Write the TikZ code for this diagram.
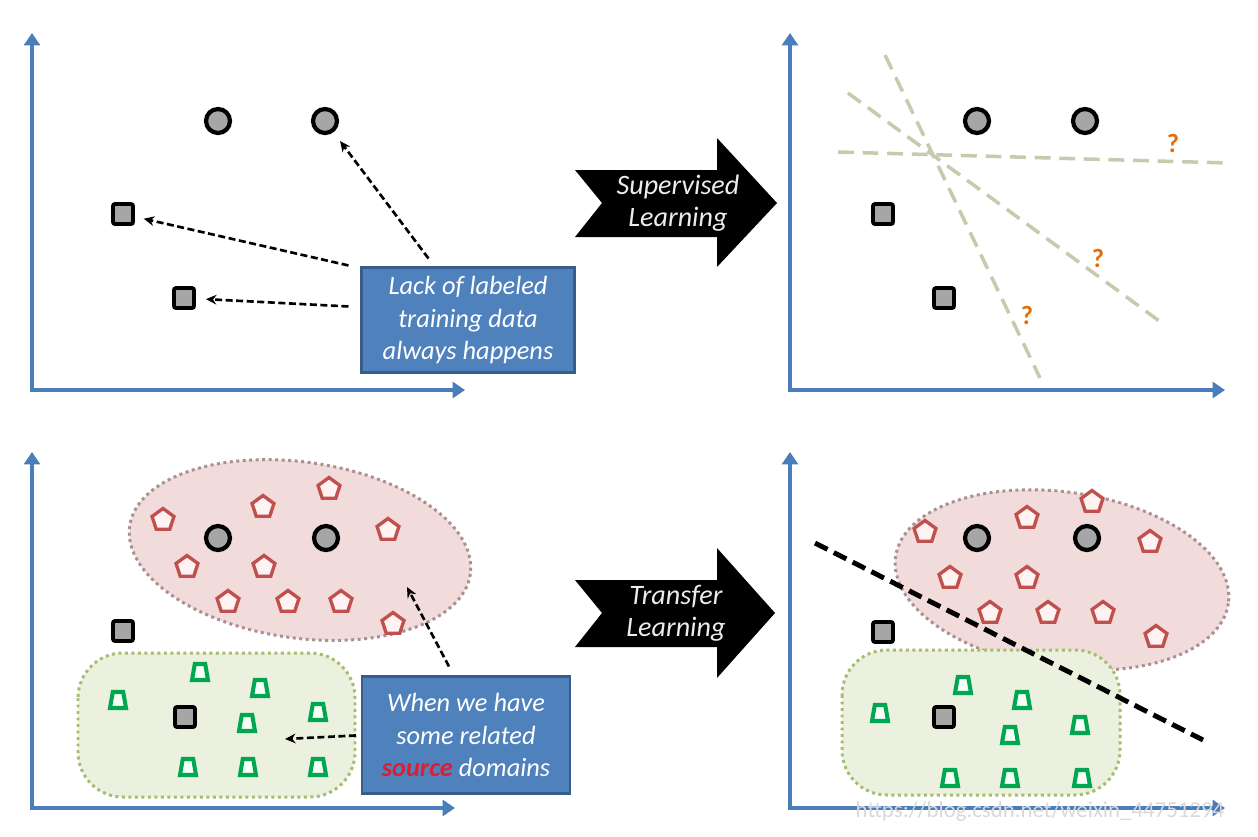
\documentclass[tikz,border=0pt]{standalone}
\usepackage{fontspec}
\setmainfont{Carlito}
\usetikzlibrary{shapes.geometric,arrows.meta,calc}
\definecolor{axisblue}{RGB}{74,126,187}
\definecolor{boxblue}{RGB}{79,129,189}
\definecolor{boxedge}{RGB}{56,93,138}
\definecolor{pinkfill}{RGB}{242,220,219}
\definecolor{pinkedge}{RGB}{170,145,145}
\definecolor{greenfill}{RGB}{235,241,222}
\definecolor{greenedge}{RGB}{165,190,110}
\definecolor{pentred}{RGB}{192,80,77}
\definecolor{trapgreen}{RGB}{0,166,80}
\definecolor{qorange}{RGB}{228,108,10}
\definecolor{cutgreen}{RGB}{196,204,174}
\definecolor{srcred}{RGB}{220,30,50}

\begin{document}
\begin{tikzpicture}[x=0.02cm, y=-0.02cm,
    axis/.style={draw=axisblue, line width=2.3pt, {Triangle[width=9pt,length=7pt]}-{Triangle[width=9pt,length=7pt]}},
    pointer/.style={draw=black, line width=1.5pt, dash pattern=on 4pt off 2pt, -{Stealth[length=6pt,width=5.5pt]}},
    datacirc/.style={circle, draw=black, line width=2.4pt, fill=gray!70, minimum size=0.48cm, inner sep=0pt},
    datasq/.style={rectangle, rounded corners=1.2pt, draw=black, line width=2.2pt, fill=gray!70, minimum size=0.4cm, inner sep=0pt},
    srcpent/.style={regular polygon, regular polygon sides=5, draw=pentred, fill=red!5, line width=1.9pt, minimum size=0.46cm, inner sep=0pt},
    srctrap/.style={trapezium, trapezium stretches=true, trapezium left angle=75, trapezium right angle=75, draw=trapgreen, fill=green!4, line width=2.3pt, minimum width=0.32cm, minimum height=0.32cm, inner sep=0.5pt},
    notebox/.style={rectangle, draw=boxedge, line width=1.2pt, fill=boxblue, text=white, font=\fontsize{15}{18.4}\selectfont\itshape, align=center},
    bigarrow/.style={fill=black},
    arrowtext/.style={text=gray!15, font=\fontsize{16}{18.4}\selectfont\itshape, align=center},
    cutline/.style={draw=cutgreen, line width=2pt, dash pattern=on 9pt off 5pt},
    boundary/.style={draw=black, line width=2.8pt, dash pattern=on 8pt off 4pt},
    qmark/.style={text=qorange, font=\fontsize{15}{15}\selectfont\bfseries},
    blobpink/.style={fill=pinkfill, draw=pinkedge, line width=1.7pt, dotted},
    blobgreen/.style={fill=greenfill, draw=greenedge, line width=1.7pt, dotted}]

    \fill[white] (0,0) rectangle (1258,836);

    % top left
    \draw[axis] (32,33) |- (465,390);
    \node[datacirc] (a1) at (218,121) {};
    \node[datacirc] (a2) at (325,121) {};
    \node[datasq] (a3) at (123,214) {};
    \node[datasq] (a4) at (184,298) {};
    \node[notebox, minimum width=4.26cm, minimum height=2.1cm] (lack) at (468,320) {Lack of labeled\\training data\\always happens};
    \draw[pointer, shorten >=0.22cm] ($(lack.north west)+(68,-8)$) -- (a2);
    \draw[pointer, shorten >=0.18cm] ($(lack.north west)+(-12,-1)$) -- (a3);
    \draw[pointer, shorten >=0.2cm] ($(lack.north west)+(-12,40)$) -- (a4);

    \fill[bigarrow] (575,170) -- (717,170) -- (717,138) -- (777,203) -- (717,267) -- (717,237) -- (575,237) -- (602,203) -- cycle;
    \node[arrowtext] (sup) at (678,203) {Supervised\\Learning};

    % top right
    \draw[axis] (790,33) |- (1225,390);
    \draw[cutline] (838,152) -- (1228,163);
    \draw[cutline] (885,55) -- (1040,378);
    \draw[cutline] (848,93) -- (1162,323);
    \node[datacirc] (b1) at (977,121) {};
    \node[datacirc] (b2) at (1085,121) {};
    \node[datasq] (b3) at (883,214) {};
    \node[datasq] (b4) at (944,298) {};
    \node[qmark] (q1) at (1173,143) {?};
    \node[qmark] (q2) at (1098,258) {?};
    \node[qmark] (q3) at (1027,315) {?};

    % bottom left
    \draw[axis] (32,452) |- (455,808);
    \filldraw[blobpink, rotate around={-8:(300,550)}] (300,550) ellipse [x radius=172, y radius=88];
    \filldraw[blobgreen, rounded corners=0.9cm] (78,653) rectangle (355,797);
    \node[srcpent] (p1) at (163,520) {};
    \node[srcpent] (p2) at (263,507) {};
    \node[srcpent] (p3) at (329,489) {};
    \node[srcpent] (p4) at (388,530) {};
    \node[srcpent] (p5) at (187,567) {};
    \node[srcpent] (p6) at (264,567) {};
    \node[srcpent] (p7) at (228,602) {};
    \node[srcpent] (p8) at (288,602) {};
    \node[srcpent] (p9) at (341,602) {};
    \node[srcpent] (p10) at (393,624) {};
    \node[datacirc] (c1) at (218,538) {};
    \node[datacirc] (c2) at (326,538) {};
    \node[datasq] (c3) at (123,631) {};
    \node[datasq] (c4) at (185,717) {};
    \node[srctrap] (t1) at (200,672) {};
    \node[srctrap] (t2) at (260,688) {};
    \node[srctrap] (t3) at (118,700) {};
    \node[srctrap] (t4) at (247,723) {};
    \node[srctrap] (t5) at (318,712) {};
    \node[srctrap] (t6) at (188,767) {};
    \node[srctrap] (t7) at (248,767) {};
    \node[srctrap] (t8) at (318,767) {};
    \node[notebox, minimum width=4.16cm, minimum height=2.34cm] (src) at (466,735) {When we have\\some related\\\textcolor{srcred}{\textbf{source}} domains};
    \coordinate (inpink) at (407,587);
    \coordinate (ingreen) at (285,739);
    \draw[pointer] ($(src.north west)+(88,-9)$) -- (inpink);
    \draw[pointer] ($(src.north west)+(-5,60)$) -- (ingreen);

    \fill[bigarrow] (575,580) -- (717,580) -- (717,548) -- (775,613) -- (717,678) -- (717,647) -- (575,647) -- (602,613) -- cycle;
    \node[arrowtext] (trf) at (676,613) {Transfer\\Learning};

    % bottom right
    \draw[axis] (790,452) |- (1225,808);
    \filldraw[blobpink, rotate around={-8:(1062,580)}] (1062,580) ellipse [x radius=168, y radius=88];
    \filldraw[blobgreen, rounded corners=0.9cm] (842,650) rectangle (1120,795);
    \node[srcpent] (r1) at (925,532) {};
    \node[srcpent] (r2) at (1027,518) {};
    \node[srcpent] (r3) at (1092,502) {};
    \node[srcpent] (r4) at (1150,542) {};
    \node[srcpent] (r5) at (950,578) {};
    \node[srcpent] (r6) at (1027,578) {};
    \node[srcpent] (r7) at (990,613) {};
    \node[srcpent] (r8) at (1048,613) {};
    \node[srcpent] (r9) at (1103,613) {};
    \node[srcpent] (r10) at (1156,637) {};
    \node[datacirc] (d1) at (977,538) {};
    \node[datacirc] (d2) at (1087,538) {};
    \node[datasq] (d3) at (883,632) {};
    \node[datasq] (d4) at (944,717) {};
    \node[srctrap] (s1) at (963,685) {};
    \node[srctrap] (s2) at (1022,700) {};
    \node[srctrap] (s3) at (880,713) {};
    \node[srctrap] (s4) at (1080,725) {};
    \node[srctrap] (s5) at (1010,735) {};
    \node[srctrap] (s6) at (950,778) {};
    \node[srctrap] (s7) at (1010,778) {};
    \node[srctrap] (s8) at (1082,778) {};
    \draw[boundary] (815,543) -- (1203,740);

    \node[text=gray!30, font=\fontsize{13}{13}\selectfont] (wm) at (1040,812) {https://blog.csdn.net/weixin\_44751294};
\end{tikzpicture}
\end{document}
